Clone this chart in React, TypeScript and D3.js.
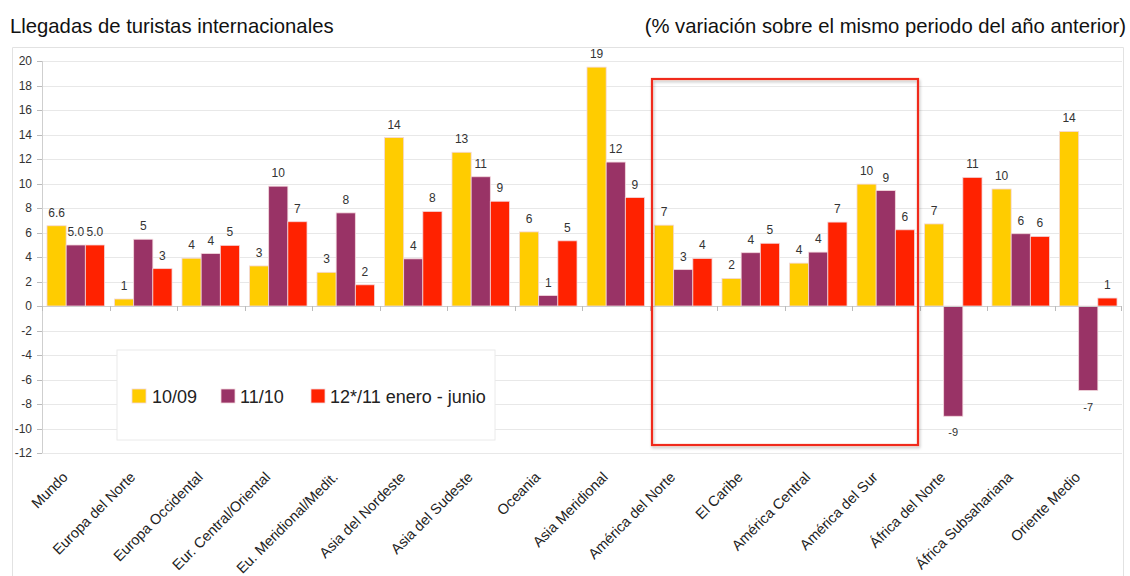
import React from "react";
import * as d3 from "d3";

const categories = [
  "Mundo", "Europa del Norte", "Europa Occidental", "Eur. Central/Oriental",
  "Eu. Meridional/Medit.", "Asia del Nordeste", "Asia del Sudeste", "Oceania",
  "Asia Meridional", "América del Norte", "El Caribe", "América Central",
  "América del Sur", "África del Norte", "África Subsahariana", "Oriente Medio",
];
const seriesNames = ["10/09", "11/10", "12*/11 enero - junio"];
const s1009 = [6.55, 0.57, 3.9, 3.27, 2.75, 13.75, 12.55, 6.05, 19.5, 6.6, 2.25, 3.5, 9.95, 6.7, 9.55, 14.25];
const s1110 = [4.98, 5.45, 4.28, 9.78, 7.6, 3.85, 10.55, 0.85, 11.75, 2.97, 4.35, 4.4, 9.42, -9.0, 5.9, -6.9];
const s1211 = [4.98, 3.05, 4.95, 6.88, 1.73, 7.72, 8.55, 5.32, 8.85, 3.88, 5.12, 6.85, 6.22, 10.5, 5.68, 0.65];
const lab1009 = ["6.6", "1", "4", "3", "3", "14", "13", "6", "19", "7", "2", "4", "10", "7", "10", "14"];
const lab1110 = ["5.0", "5", "4", "10", "8", "4", "11", "1", "12", "3", "4", "4", "9", "-9", "6", "-7"];
const lab1211 = ["5.0", "3", "5", "7", "2", "8", "9", "5", "9", "4", "5", "7", "6", "11", "6", "1"];
const yTicks = [20, 18, 16, 14, 12, 10, 8, 6, 4, 2, 0, -2, -4, -6, -8, -10, -12];
const colors = ["#FFCC00", "#993366", "#FF2200"];

const FONT = "'Liberation Sans', Arial, sans-serif";

export default function App() {
  const W = 1130, H = 576;
  const left = 42, right = 1122;
  const y = d3.scaleLinear().domain([-12, 20]).range([453, 61]);
  const x = d3.scaleBand().domain(categories).range([left, right]).paddingInner(0).paddingOuter(0);
  const inner = d3.scaleBand().domain(["0", "1", "2"]).range([0, x.bandwidth()]).paddingInner(0).paddingOuter(0.26);
  const series = [s1009, s1110, s1211];
  const labels = [lab1009, lab1110, lab1211];
  const y0 = y(0);

  const boxX0 = x("América del Norte")! + 2.5;
  const boxX1 = x("América del Sur")! + x.bandwidth() - 1.5;

  return (
    <svg width={W} height={H} style={{ position: "absolute", left: 0, top: 0, background: "#fff" }} fontFamily={FONT}>
      <defs>
        <filter id="sh" x="-5%" y="-5%" width="110%" height="110%">
          <feDropShadow dx="1" dy="2" stdDeviation="1.5" floodColor="#000" floodOpacity="0.25" />
        </filter>
      </defs>
      <rect x={0} y={0} width={W} height={H} fill="#fff" />
      <text x={10} y={33} fontSize={20.3} fill="#111">Llegadas de turistas internacionales</text>
      <text x={1126} y={33} fontSize={20.3} fill="#111" textAnchor="end">(% variación sobre el mismo periodo del año anterior)</text>
      {/* frame */}
      <path d={`M12.5,576 V47.5 H1123.5 V576`} fill="none" stroke="#e2e2e2" />
      {/* gridlines */}
      {yTicks.map((t) => (
        <g key={t}>
          <line x1={left} x2={right} y1={Math.round(y(t)) + 0.5} y2={Math.round(y(t)) + 0.5} stroke="#e8e8e8" strokeWidth={1} />
          <line x1={left - 5} x2={left} y1={Math.round(y(t)) + 0.5} y2={Math.round(y(t)) + 0.5} stroke="#bbb" />
          <text x={32} y={y(t) + 4} fontSize={12} fill="#333" textAnchor="end">{t}</text>
        </g>
      ))}
      <line x1={left + 0.5} x2={left + 0.5} y1={y(20)} y2={y(-12)} stroke="#cfcfcf" />
      {/* bars */}
      {categories.map((c, i) => (
        <g key={c}>
          {series.map((s, k) => {
            const v = s[i];
            const bx = x(c)! + inner(String(k))!;
            const bw = inner.bandwidth();
            const top = Math.min(y(v), y0);
            const h = Math.abs(y(v) - y0);
            return (
              <g key={k}>
                <rect x={bx} y={top} width={bw} height={h} fill={colors[k]} stroke="#f3d7dc" strokeWidth={0.8} />
                <text x={bx + bw / 2} y={v >= 0 ? y(v) - 9 : y(v) + 20} fontSize={v >= 0 ? 12 : 11} fill="#333" textAnchor="middle">{labels[k][i]}</text>
              </g>
            );
          })}
        </g>
      ))}
      {/* zero axis */}
      <line x1={left} x2={right} y1={Math.round(y0) + 0.5} y2={Math.round(y0) + 0.5} stroke="#cfcfcf" />
      {categories.map((c, i) => (
        <line key={"t" + i} x1={Math.round(x(c)!) + 0.5} x2={Math.round(x(c)!) + 0.5} y1={y0} y2={y0 + 5} stroke="#bbb" />
      ))}
      <line x1={right - 0.5} x2={right - 0.5} y1={y0} y2={y0 + 5} stroke="#bbb" />
      {/* x labels */}
      {categories.map((c) => {
        const cx = x(c)! + x.bandwidth() / 2 - 7;
        const cy = 478;
        return (
          <text key={"l" + c} x={cx} y={cy} fontSize={14.5} fill="#222" textAnchor="end" transform={`rotate(-45 ${cx} ${cy})`}>{c}</text>
        );
      })}
      {/* legend */}
      <rect x={117} y={350} width={378} height={90} fill="#fff" stroke="#eaeaea" />
      {[{ x: 132, tx: 152 }, { x: 221, tx: 240 }, { x: 311, tx: 330 }].map((p, k) => (
        <g key={"lg" + k}>
          <rect x={p.x} y={389} width={14} height={14} fill={colors[k]} stroke="#f3d7dc" strokeWidth={0.8} />
          <text x={p.tx} y={403} fontSize={18} fill="#222">{seriesNames[k]}</text>
        </g>
      ))}
      {/* highlight box */}
      <rect x={boxX0} y={79} width={boxX1 - boxX0} height={366} fill="none" stroke="#F02A1E" strokeWidth={2.2} filter="url(#sh)" />
    </svg>
  );
}
